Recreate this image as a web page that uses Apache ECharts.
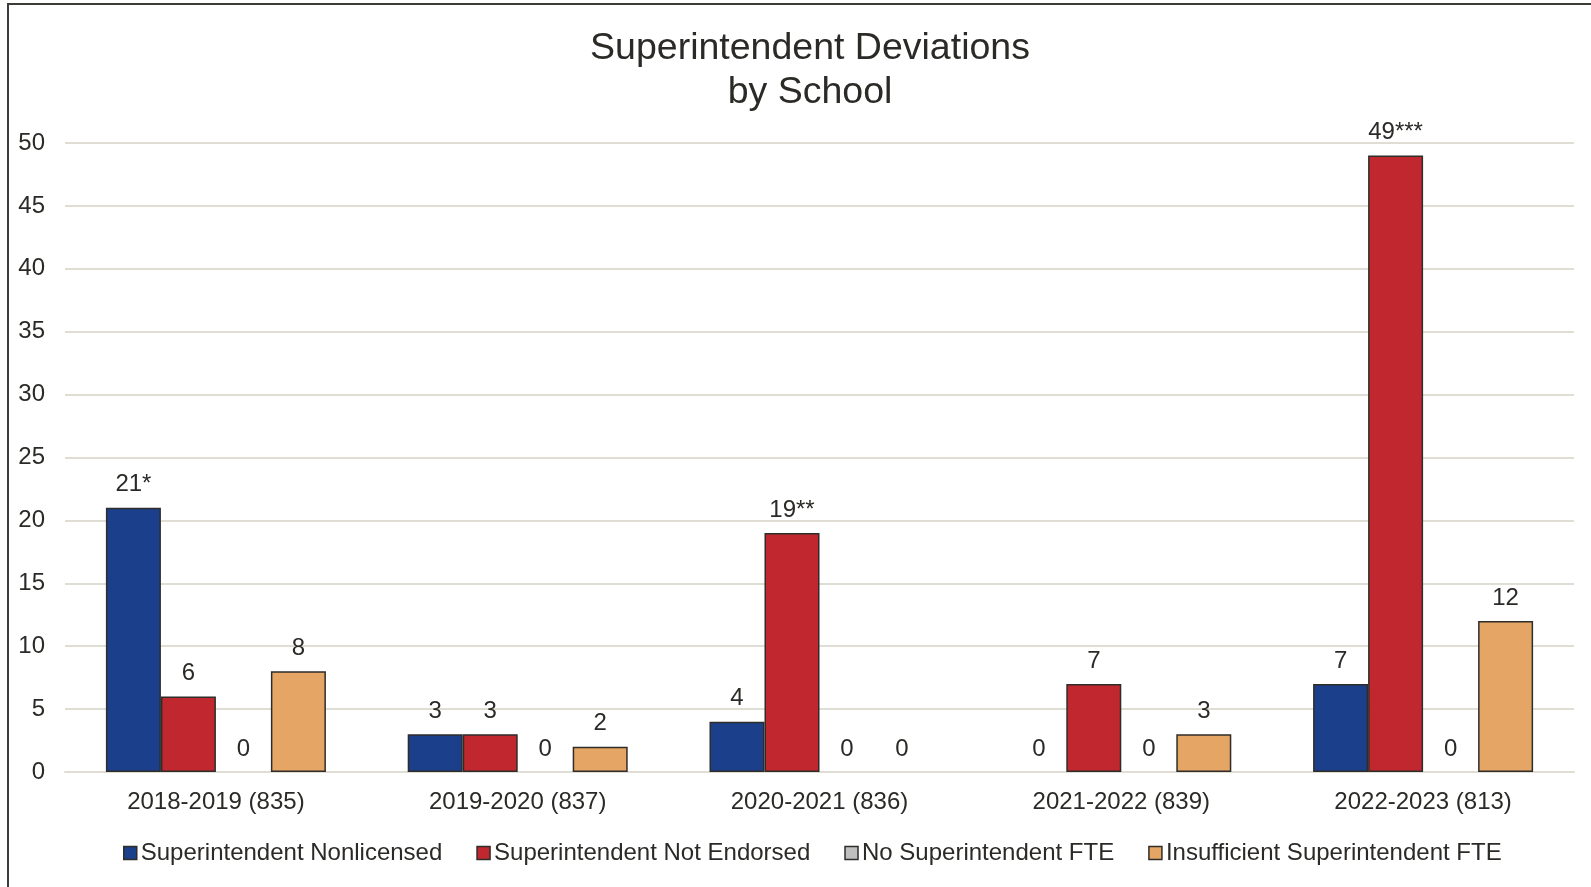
<!DOCTYPE html>
<html>
<head>
<meta charset="utf-8">
<script src="https://cdn.jsdelivr.net/npm/echarts@6/dist/echarts.min.js"></script>
<style>
  html, body { margin: 0; padding: 0; background: #fff; }
  #chart { width: 1591px; height: 887px; }
</style>
</head>
<body>
<div id="chart"></div>
<script>
const years = ['2018-2019 (835)', '2019-2020 (837)', '2020-2021 (836)', '2021-2022 (839)', '2022-2023 (813)']

const nonlicensed = [21, 3, 4, 0, 7]
const notEndorsed = [6, 3, 19, 7, 49]
const noFte = [0, 0, 0, 0, 0]
const insufficientFte = [8, 2, 0, 3, 12]

// the printed labels carry footnote marks
const nonlicensedLabels = ['21*', '3', '4', '0', '7']
const notEndorsedLabels = ['6', '3', '19**', '7', '49***']
const noFteLabels = ['0', '0', '0', '0', '0']
const insufficientFteLabels = ['8', '2', '0', '3', '12']

const yTicks = { min: 0, max: 50, interval: 5 }

const textColor = '#2b2a27'
const font = 'Liberation Sans, Arial, sans-serif'

function makeSeries(name, values, labels, color) {
  return {
    name,
    type: 'bar',
    barWidth: 55,
    barGap: '0%',
    data: values.map((v) => ({
      value: v,
      itemStyle: v === 0 ? { borderWidth: 0 } : undefined,
    })),
    itemStyle: { color, borderColor: '#2e2d2a', borderWidth: 1.5 },
    label: {
      show: true,
      position: 'top',
      distance: 11,
      color: textColor,
      fontFamily: font,
      fontSize: 24,
      formatter: (p) => labels[p.dataIndex],
    },
  }
}

const myChart = echarts.init(document.getElementById('chart'))
const option = {
  backgroundColor: '#fff',
  animation: false,
  title: {
    text: 'Superintendent Deviations\nby School',
    left: 805,
    top: 21,
    textAlign: 'center',
    textStyle: {
      color: textColor,
      fontFamily: font,
      fontSize: 37.5,
      fontWeight: 'normal',
      lineHeight: 44.6,
    },
  },
  legend: {
    left: 118,
    top: 836,
    icon: 'rect',
    itemWidth: 13,
    itemHeight: 13,
    itemGap: 34,
    itemStyle: { borderColor: '#2e2d2a', borderWidth: 1.5 },
    textStyle: { color: textColor, fontFamily: font, fontSize: 24, padding: [0, 0, 0, -1] },
    data: [
      'Superintendent Nonlicensed',
      'Superintendent Not Endorsed',
      'No Superintendent FTE',
      'Insufficient Superintendent FTE',
    ],
  },
  grid: { left: 65, right: 17, top: 143, bottom: 115, containLabel: false },
  xAxis: {
    type: 'category',
    data: years,
    axisLine: { show: true, lineStyle: { color: '#e0ddd5', width: 2 } },
    axisTick: { show: false },
    axisLabel: { color: textColor, fontFamily: font, fontSize: 24, margin: 18 },
  },
  yAxis: {
    type: 'value',
    min: yTicks.min,
    max: yTicks.max,
    interval: yTicks.interval,
    axisLine: { show: false },
    axisTick: { show: false },
    axisLabel: { color: textColor, fontFamily: font, fontSize: 24, margin: 20, padding: [4, 0, 0, 0] },
    splitLine: { lineStyle: { color: '#e0ddd5', width: 2 } },
  },
  graphic: [
    {
      type: 'polyline',
      shape: { points: [[8, 900], [8, 4], [1600, 4]] },
      style: { stroke: '#3d3c38', lineWidth: 2, fill: null },
    },
  ],
  series: [
    makeSeries('Superintendent Nonlicensed', nonlicensed, nonlicensedLabels, '#1b3f8b'),
    makeSeries('Superintendent Not Endorsed', notEndorsed, notEndorsedLabels, '#c1272f'),
    makeSeries('No Superintendent FTE', noFte, noFteLabels, '#bfbfbf'),
    makeSeries('Insufficient Superintendent FTE', insufficientFte, insufficientFteLabels, '#e5a564'),
  ],
}

myChart.setOption(option)
</script>
</body>
</html>
